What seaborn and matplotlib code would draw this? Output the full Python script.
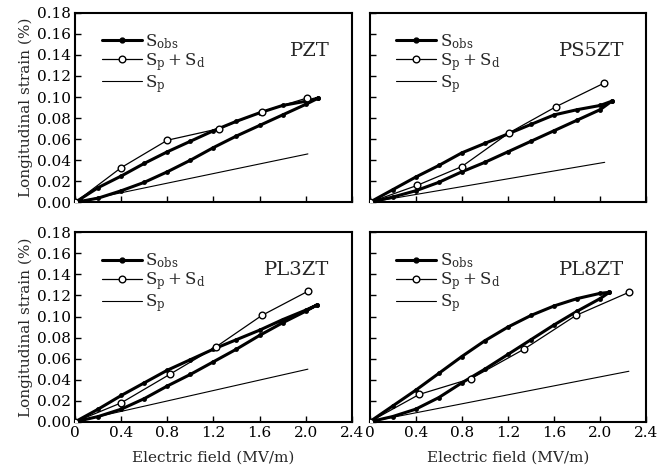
import matplotlib
matplotlib.use("Agg")
import matplotlib.pyplot as plt
from matplotlib.lines import Line2D
import seaborn as sns

# panel names
samples = ["PZT", "PS5ZT", "PL3ZT", "PL8ZT"]

# S_obs loops: field values and strain on the rising / falling branches
obs_x = {
    "PZT":   [0, 0.2, 0.4, 0.6, 0.8, 1.0, 1.2, 1.4, 1.6, 1.8, 2.0, 2.11],
    "PS5ZT": [0, 0.2, 0.4, 0.6, 0.8, 1.0, 1.2, 1.4, 1.6, 1.8, 2.0, 2.10],
    "PL3ZT": [0, 0.2, 0.4, 0.6, 0.8, 1.0, 1.2, 1.4, 1.6, 1.8, 2.0, 2.10],
    "PL8ZT": [0, 0.2, 0.4, 0.6, 0.8, 1.0, 1.2, 1.4, 1.6, 1.8, 2.0, 2.08],
}
obs_up = {
    "PZT":   [0, 0.014, 0.025, 0.037, 0.048, 0.058, 0.068, 0.077, 0.085, 0.092, 0.096, 0.099],
    "PS5ZT": [0, 0.012, 0.024, 0.035, 0.047, 0.056, 0.065, 0.074, 0.083, 0.088, 0.092, 0.096],
    "PL3ZT": [0, 0.012, 0.025, 0.037, 0.049, 0.059, 0.069, 0.078, 0.087, 0.097, 0.106, 0.111],
    "PL8ZT": [0, 0.015, 0.030, 0.046, 0.062, 0.077, 0.090, 0.101, 0.110, 0.117, 0.122, 0.123],
}
obs_down = {
    "PZT":   [0, 0.004, 0.011, 0.019, 0.029, 0.040, 0.052, 0.063, 0.073, 0.083, 0.093, 0.099],
    "PS5ZT": [0, 0.005, 0.011, 0.019, 0.029, 0.038, 0.048, 0.058, 0.068, 0.078, 0.088, 0.096],
    "PL3ZT": [0, 0.005, 0.012, 0.022, 0.034, 0.045, 0.057, 0.069, 0.082, 0.094, 0.105, 0.111],
    "PL8ZT": [0, 0.005, 0.012, 0.023, 0.037, 0.050, 0.064, 0.078, 0.092, 0.105, 0.117, 0.123],
}

# S_p + S_d (open circles)
spd_x = {
    "PZT":   [0, 0.40, 0.80, 1.25, 1.62, 2.01],
    "PS5ZT": [0, 0.41, 0.80, 1.21, 1.62, 2.03],
    "PL3ZT": [0, 0.40, 0.82, 1.22, 1.62, 2.02],
    "PL8ZT": [0, 0.43, 0.88, 1.34, 1.79, 2.25],
}
spd_y = {
    "PZT":   [0, 0.033, 0.059, 0.070, 0.086, 0.099],
    "PS5ZT": [0, 0.016, 0.034, 0.066, 0.091, 0.113],
    "PL3ZT": [0, 0.018, 0.045, 0.071, 0.101, 0.124],
    "PL8ZT": [0, 0.026, 0.041, 0.069, 0.101, 0.123],
}

# S_p (thin straight line)
sp_x = {"PZT": [0, 2.02], "PS5ZT": [0, 2.04], "PL3ZT": [0, 2.02], "PL8ZT": [0, 2.25]}
sp_y = {"PZT": [0, 0.046], "PS5ZT": [0, 0.038], "PL3ZT": [0, 0.050], "PL8ZT": [0, 0.048]}

x_ticks = [0, 0.4, 0.8, 1.2, 1.6, 2.0, 2.4]
y_ticks = [0, 0.02, 0.04, 0.06, 0.08, 0.10, 0.12, 0.14, 0.16, 0.18]

sns.set_style("ticks")
plt.rcParams['font.family'] = ['DejaVu Serif']
plt.rcParams['mathtext.fontset'] = 'dejavuserif'

fig, axes = plt.subplots(2, 2, figsize=(6.71, 4.75), dpi=100)
fig.subplots_adjust(left=0.112, right=0.963, top=0.973, bottom=0.112,
                    wspace=0.065, hspace=0.158)

for ax, name in zip(axes.flat, samples):
    # loop: rising branch then falling branch back to zero
    loop_x = obs_x[name] + obs_x[name][::-1]
    loop_y = obs_down[name] + obs_up[name][::-1]
    sns.lineplot(x=loop_x, y=loop_y, sort=False, estimator=None, ax=ax,
                 color="black", lw=2.2, marker="o", markersize=3.5,
                 markeredgewidth=0)
    sns.lineplot(x=spd_x[name], y=spd_y[name], sort=False, estimator=None, ax=ax,
                 color="black", lw=0.9, marker="o", markersize=4.8,
                 markerfacecolor="white", markeredgecolor="black",
                 markeredgewidth=1.0, zorder=4)
    sns.lineplot(x=sp_x[name], y=sp_y[name], sort=False, estimator=None, ax=ax,
                 color="black", lw=0.8)

    ax.set_xlim(0, 2.4)
    ax.set_ylim(0, 0.18)
    ax.set_xticks(x_ticks)
    ax.set_yticks(y_ticks)
    ax.set_xticklabels(["0", "0.4", "0.8", "1.2", "1.6", "2.0", "2.4"])
    ax.set_yticklabels([f"{v:.2f}" for v in y_ticks])
    ax.tick_params(direction="in", length=4, width=1.0, labelsize=11,
                   colors="black", pad=3)
    for sp in ax.spines.values():
        sp.set_visible(True)
        sp.set_linewidth(1.5)
        sp.set_color("black")

    ax.text(0.92, 0.80, name, transform=ax.transAxes, ha="right", va="center",
            fontsize=14)

    handles = [
        Line2D([], [], color="black", lw=2.2, marker="o", markersize=3.5),
        Line2D([], [], color="black", lw=0.9, marker="o", markersize=4.8,
               markerfacecolor="white"),
        Line2D([], [], color="black", lw=0.8),
    ]
    labels = [r"$\mathrm{S_{obs}}$", r"$\mathrm{S_p + S_d}$", r"$\mathrm{S_p}$"]
    ax.legend(handles, labels, loc="upper left", bbox_to_anchor=(0.06, 0.95),
              frameon=False, fontsize=12, handlelength=2.4, handletextpad=0.2,
              labelspacing=0.0, borderaxespad=0.2, markerfirst=True)
    ax.set_xlabel("")
    ax.set_ylabel("")

for ax in axes[0]:
    ax.tick_params(labelbottom=False)
for ax in axes[:, 1]:
    ax.tick_params(labelleft=False)
for ax in axes[:, 0]:
    ax.set_ylabel("Longitudinal strain (%)", fontsize=11, labelpad=3)
for ax in axes[1]:
    ax.set_xlabel("Electric field (MV/m)", fontsize=11, labelpad=8)

fig.savefig("out.png", dpi=100)
